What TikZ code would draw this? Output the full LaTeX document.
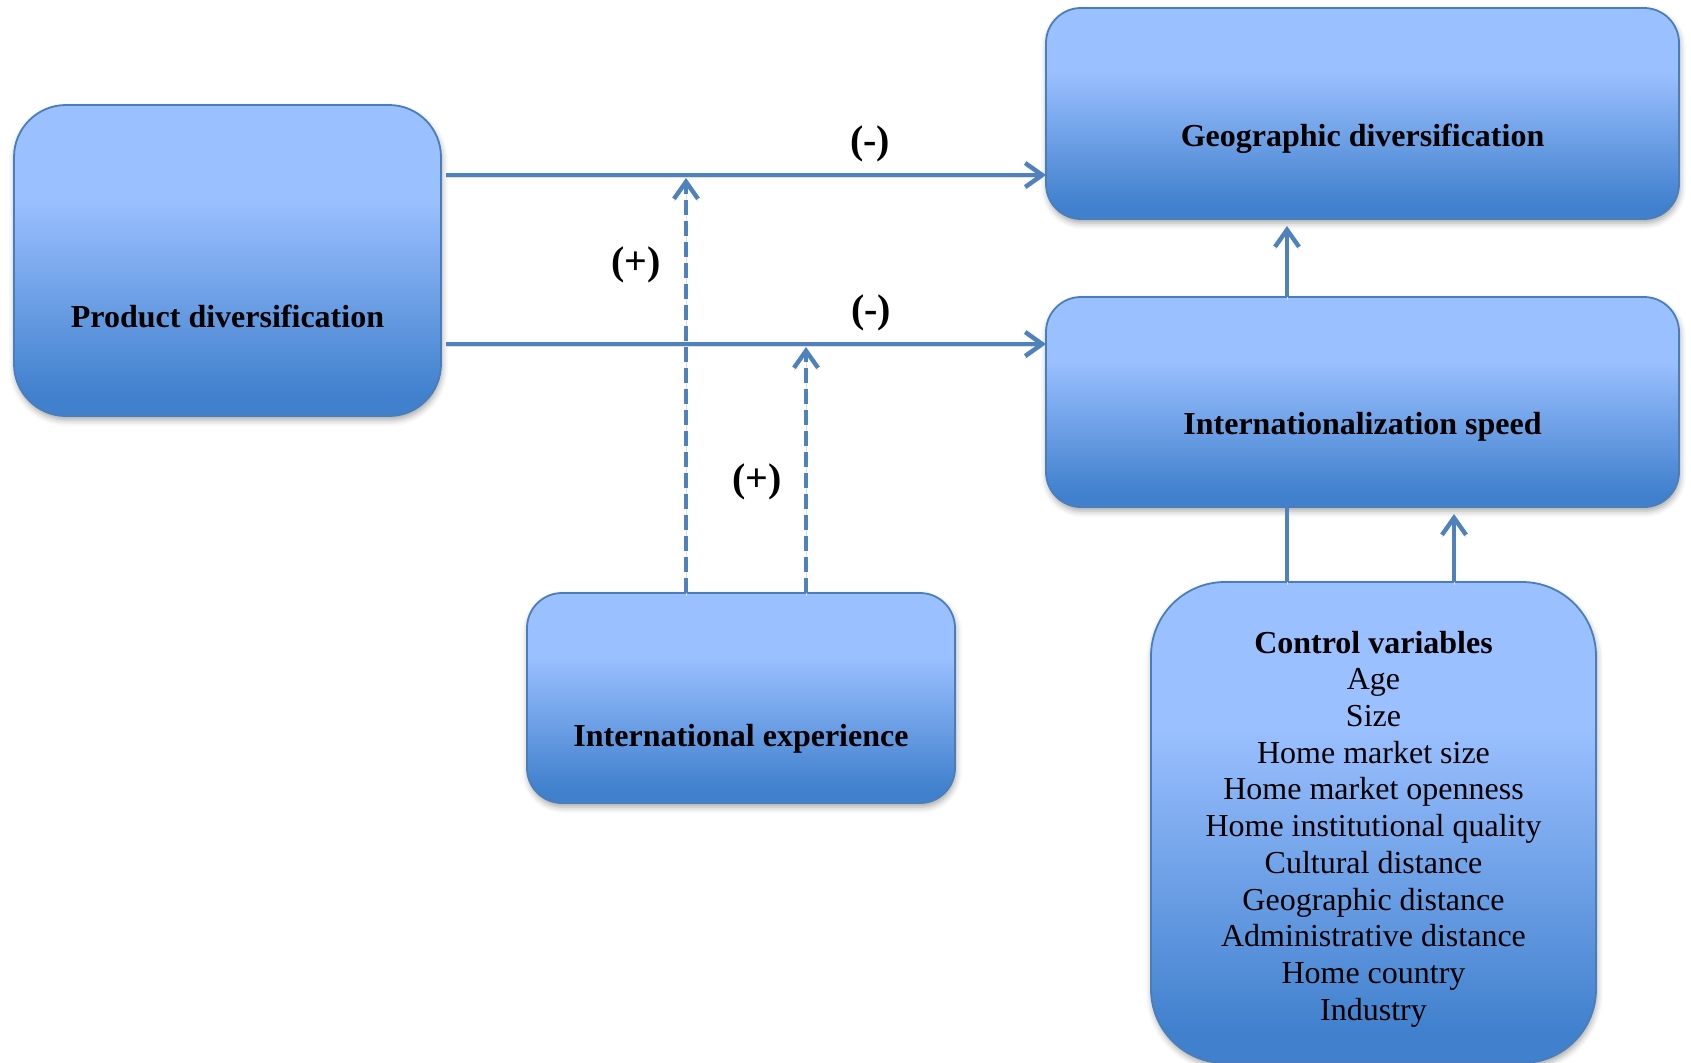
\documentclass[tikz,border=0pt]{standalone}
\usepackage{fontspec}
\setmainfont{Liberation Serif}
\usetikzlibrary{arrows.meta,shadows.blur,calc}
\definecolor{blight}{RGB}{155,192,255}
\definecolor{bdark}{RGB}{64,128,205}
\definecolor{bborder}{RGB}{74,126,187}
\definecolor{lineblue}{RGB}{79,129,189}
\pgfdeclareverticalshading{offblue}{100bp}{color(0bp)=(bdark); color(28bp)=(bdark); color(60bp)=(blight); color(100bp)=(blight)}
\begin{document}
\begin{tikzpicture}[x=0.5pt,y=-0.5pt,
  box/.style={draw=bborder, line width=0.9pt, shade, shading=offblue, inner sep=0pt, outer sep=0pt,
    blur shadow={shadow xshift=0.5pt, shadow yshift=-2pt, shadow blur radius=3pt, shadow opacity=35}},
  lbl/.style={font=\bfseries\fontsize{16}{18.4}\selectfont, inner sep=0pt, anchor=base},
  sgn/.style={font=\bfseries\fontsize{20}{24}\selectfont, inner sep=0pt},
  conn/.style={draw=lineblue, line width=2.2pt,
    preaction={draw=black!13, transform canvas={yshift=-1.3pt}}},
  arr/.style={conn, -{Straight Barb[length=8.5pt,width=12pt]}},
  dsh/.style={arr, dash pattern=on 7.5pt off 3pt}]
\useasboundingbox (0,0) rectangle (1691,1062);

% boxes
\node[box, minimum width=213.5pt, minimum height=155.5pt, rounded corners=26pt] (pd) at (227.5,260.5) {};
\node[box, minimum width=316.5pt, minimum height=105.5pt, rounded corners=17.5pt] (gd) at (1362.5,113.5) {};
\node[box, minimum width=316.5pt, minimum height=105pt, rounded corners=17.5pt] (is) at (1362.5,402) {};
\node[box, minimum width=214pt, minimum height=105pt, rounded corners=17.5pt] (ie) at (741,698) {};
\node[box, minimum width=222.5pt, minimum height=240.5pt, rounded corners=37pt] (cv) at (1373.5,822.5) {};

% box texts
\node[lbl] (pdt) at (227.5,327) {Product diversification};
\node[lbl] (gdt) at (1362.5,146) {Geographic diversification};
\node[lbl] (ist) at (1362.5,434) {Internationalization speed};
\node[lbl] (iet) at (741,746) {International experience};
\node[align=center, font=\fontsize{16}{18.35}\selectfont, inner sep=0pt] (cvt) at (1373.5,829)
  {\textbf{Control variables}\\Age\\Size\\Home market size\\Home market openness\\Home institutional quality\\Cultural distance\\Geographic distance\\Administrative distance\\Home country\\Industry};

% signs
\node[sgn] (m1) at (870,144) {(-)};
\node[sgn] (m2) at (871,313) {(-)};
\node[sgn] (p1) at (636,265) {(+)};
\node[sgn] (p2) at (757,482) {(+)};

% connector ends
\coordinate (s1) at (446,175);
\coordinate (s2) at (446,344);
\coordinate (vx) at (1287,0);
\coordinate (ux) at (1454,0);
\coordinate (d1) at (686,178);
\coordinate (d2) at (806,347);

\draw[dsh] (ie.north -| d1) -- (d1);
\draw[dsh] (ie.north -| d2) -- (d2);
\draw[arr] (s1) -- (s1 -| gd.west);
\draw[arr] (s2) -- (s2 -| is.west);
\draw[arr] (is.north -| vx) -- ($(gd.south -| vx)+(0,7)$);
\draw[conn] (cv.north -| vx) -- (is.south -| vx);
\draw[arr] (cv.north -| ux) -- ($(is.south -| ux)+(0,7)$);
\end{tikzpicture}
\end{document}
